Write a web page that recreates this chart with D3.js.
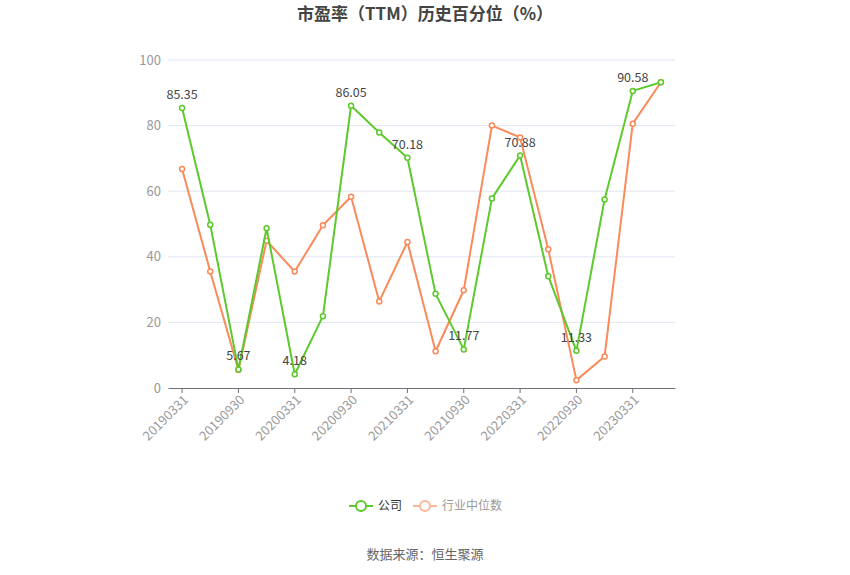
<!DOCTYPE html>
<html><head><meta charset="utf-8">
<script src="https://cdn.jsdelivr.net/npm/d3@7/dist/d3.min.js"></script>
<style>body{margin:0;background:#fff;font-family:"Microsoft YaHei","Noto Sans CJK SC",sans-serif;}</style>
</head><body><svg id="c" width="850" height="575"></svg>
<script>
const categories = ["20190331","20190630","20190930","20191231","20200331","20200630","20200930","20201231","20210331","20210630","20210930","20211231","20220331","20220630","20220930","20221231","20230331","20230630"];
const companyValues = [85.35,49.8,5.67,48.7,4.18,21.9,86.05,77.9,70.18,28.7,11.77,57.8,70.88,34.1,11.33,57.5,90.58,93.2];
const industryValues = [66.8,35.5,5.5,44.9,35.5,49.6,58.3,26.4,44.5,11.2,29.8,80.0,76.4,42.3,2.4,9.6,80.6,93.2];
const yTicks = [0,20,40,60,80,100];
const labeledIdx = [0,2,4,6,8,10,12,14,16];
const seriesNames = ["公司","行业中位数"];
const colors = ["#5dc92c","#fa8a5a"];

(function(){
const svg = d3.select("#c");
const font = '"Microsoft YaHei","Noto Sans CJK SC",sans-serif';
const pLeft=168, pRight=675, pTop=60, pBottom=388;
const x = d3.scaleBand().domain(categories).range([pLeft,pRight]);
const y = d3.scaleLinear().domain([0,100]).range([pBottom,pTop]);
const cx = d => x(d)+x.bandwidth()/2;

svg.append("text").attr("x",425).attr("y",20).attr("text-anchor","middle")
  .attr("font-size",17).attr("font-weight","bold").attr("fill","#444").attr("font-family",font)
  .text("市盈率（TTM）历史百分位（%）");

svg.append("g").selectAll("line").data(yTicks.filter(t=>t>0)).join("line")
  .attr("x1",pLeft).attr("x2",pRight).attr("y1",d=>y(d)).attr("y2",d=>y(d))
  .attr("stroke","#e0e6f1").attr("stroke-width",1);

const ya = svg.append("g").attr("transform",`translate(${pLeft},0)`)
  .call(d3.axisLeft(y).tickValues(yTicks).tickSize(0).tickPadding(7));
ya.select(".domain").remove();
ya.selectAll("text").attr("fill","#999").attr("font-size",13).attr("font-family",font);

const xa = svg.append("g").attr("transform",`translate(0,${pBottom})`)
  .call(d3.axisBottom(x).tickValues(categories.filter((d,i)=>i%2===0)).tickSize(5).tickSizeOuter(0));
xa.select(".domain").attr("stroke","#6e7079");
xa.selectAll(".tick line").attr("stroke","#6e7079");
xa.selectAll("text").attr("fill","#999").attr("font-size",13).attr("font-family",font)
  .attr("text-anchor","end").attr("dx","-0.3em").attr("dy","0.45em")
  .attr("transform","rotate(-45)");

const all = [companyValues, industryValues];
[1,0].forEach(si=>{
  const vals = all[si];
  const line = d3.line().x((d,i)=>cx(categories[i])).y(d=>y(d));
  svg.append("path").datum(vals).attr("d",line).attr("fill","none")
    .attr("stroke",colors[si]).attr("stroke-width",2).attr("stroke-linejoin","round");
  svg.append("g").selectAll("circle").data(vals).join("circle")
    .attr("cx",(d,i)=>cx(categories[i])).attr("cy",d=>y(d)).attr("r",2.5)
    .attr("fill","#fff").attr("stroke",colors[si]).attr("stroke-width",1.5);
});

svg.append("g").selectAll("text").data(labeledIdx).join("text")
  .attr("x",i=>cx(categories[i])).attr("y",i=>y(companyValues[i])-9)
  .attr("text-anchor","middle").attr("font-size",12.5).attr("fill","#444").attr("font-family",font)
  .text(i=>companyValues[i].toFixed(2));

const legend = [{name:seriesNames[0],x:349,stroke:colors[0],text:"#333"},{name:seriesNames[1],x:413,stroke:"#fbb79a",text:"#999"}];
legend.forEach(l=>{
  const g = svg.append("g");
  g.append("line").attr("x1",l.x).attr("x2",l.x+24).attr("y1",506).attr("y2",506).attr("stroke",l.stroke).attr("stroke-width",2);
  g.append("circle").attr("cx",l.x+12).attr("cy",506).attr("r",5).attr("fill","#fff").attr("stroke",l.stroke).attr("stroke-width",2);
  g.append("text").attr("x",l.x+29).attr("y",510).attr("font-size",12).attr("fill",l.text).attr("font-family",font).text(l.name);
});

svg.append("text").attr("x",425).attr("y",559).attr("text-anchor","middle")
  .attr("font-size",13).attr("fill","#666").attr("font-family",font).text("数据来源：恒生聚源");
})();
</script></body></html>
